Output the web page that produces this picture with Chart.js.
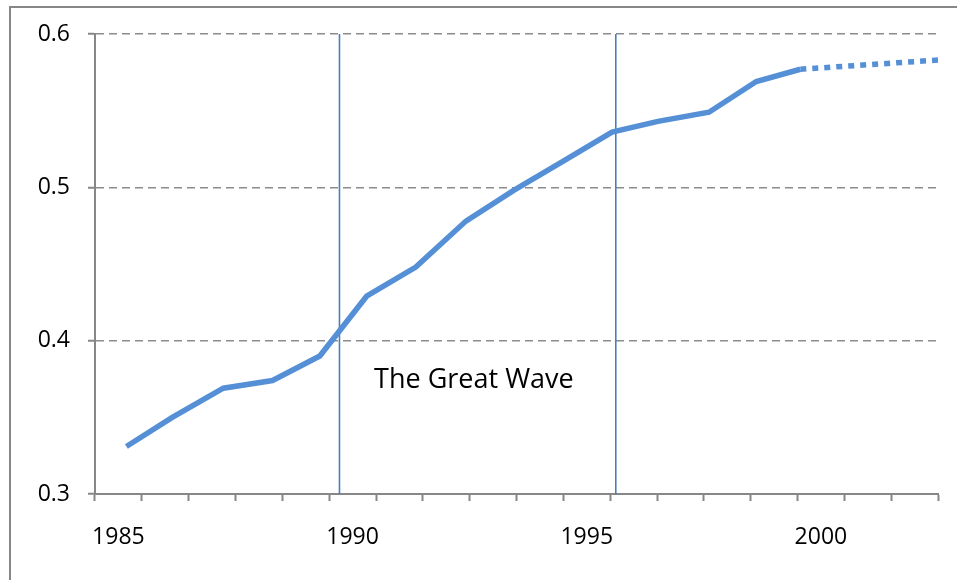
<!DOCTYPE html>
<html>
<head>
<meta charset="utf-8">
<script src="https://cdn.jsdelivr.net/npm/chart.js@4"></script>
<style>
  body { margin: 0; background: #fff; }
  #chart { display: block; }
</style>
</head>
<body>
<canvas id="chart" width="957" height="580"></canvas>
<script>
// category labels along the bottom axis
const years = ["1985", "1986", "1987", "1988", "1989", "1990", "1991", "1992", "1993",
    "1994", "1995", "1996", "1997", "1998", "1999", "2000", "2001", "2002"];

// series (x in years, y values)
const seriesX = [1985.17, 1986.15, 1987.24, 1988.29, 1989.30, 1990.30, 1991.35, 1992.42,
    1993.44, 1994.49, 1995.54, 1996.52, 1997.61, 1998.62, 1999.56, 2002.5];
const seriesY = [0.331, 0.350, 0.369, 0.374, 0.390, 0.429, 0.448, 0.478,
    0.498, 0.517, 0.536, 0.543, 0.549, 0.569, 0.577, 0.583];

// vertical marker lines and the label between them
const markerYears = [1989.72, 1995.62];
const waveLabel = "The Great Wave";
const waveLabelAt = { x: 1992.59, y: 0.3744 };

const yTicks = [0.3, 0.4, 0.5, 0.6];

const FONT = "'Open Sans', sans-serif";
const lineColor = "#5590d6";
const markerColor = "#4a7ebb";
const axisGray = "#878787";

const mainData = seriesX.map((x, i) => ({ x: x, y: seriesY[i] }));
const lastSeg = mainData.length - 2;

const markerSets = markerYears.map((yr) => ({
    data: [{ x: yr, y: yTicks[0] }, { x: yr, y: yTicks[yTicks.length - 1] }],
    xAxisID: "xl",
    borderColor: markerColor,
    borderWidth: 1.6,
    pointRadius: 0,
    tension: 0,
}));

const frame = {
    id: "frame",
    beforeDraw(chart) {
        const ctx = chart.ctx;
        ctx.save();
        ctx.fillStyle = "#fff";
        ctx.fillRect(0, 0, chart.width, chart.height);
        ctx.strokeStyle = axisGray;
        ctx.lineWidth = 2;
        ctx.strokeRect(10, 7, 2000, 2000);
        ctx.restore();
    },
    afterDatasetsDraw(chart) {
        const ctx = chart.ctx;
        const xs = chart.scales.xl;
        const ys = chart.scales.y;
        ctx.save();
        ctx.fillStyle = "#000";
        ctx.font = "27px " + FONT;
        ctx.textAlign = "center";
        ctx.textBaseline = "middle";
        ctx.fillText(waveLabel, xs.getPixelForValue(waveLabelAt.x), ys.getPixelForValue(waveLabelAt.y));
        ctx.restore();
    },
};

const ctx = document.getElementById("chart").getContext("2d");
const myChart = new Chart(ctx, {
    type: "line",
    data: {
        labels: years,
        datasets: [
            {
                label: "series",
                data: mainData,
                xAxisID: "xl",
                borderColor: lineColor,
                borderWidth: 5.5,
                pointRadius: 0,
                tension: 0,
                borderCapStyle: "butt",
                segment: {
                    borderDash: (c) => (c.p0DataIndex === lastSeg ? [6, 6] : undefined),
                },
            },
            ...markerSets,
        ],
    },
    options: {
        responsive: false,
        animation: false,
        layout: { padding: { left: 0, top: 34, right: 19, bottom: 0 } },
        plugins: { legend: { display: false }, tooltip: { enabled: false } },
        scales: {
            x: {
                type: "category",
                position: "bottom",
                offset: true,
                grid: {
                    offset: true,
                    drawOnChartArea: false,
                    drawTicks: true,
                    tickLength: 7,
                    tickColor: axisGray,
                    tickWidth: 2,
                },
                border: { color: axisGray, width: 2 },
                ticks: {
                    autoSkip: false,
                    maxRotation: 0,
                    padding: 23,
                    color: "#000",
                    font: { family: FONT, size: 23 },
                    callback: function (val, i) {
                        const lab = years[i];
                        return Number(lab) % 5 === 0 ? lab : "";
                    },
                },
                afterFit: (s) => { s.height = 86; },
            },
            xl: {
                type: "linear",
                display: false,
                min: 1984.5,
                max: 2002.5,
            },
            y: {
                type: "linear",
                min: yTicks[0],
                max: yTicks[yTicks.length - 1],
                afterBuildTicks: (s) => { s.ticks = yTicks.map((v) => ({ value: v })); },
                grid: {
                    color: "#8c8c8c",
                    lineWidth: 1.5,
                    tickLength: 7,
                    tickColor: axisGray,
                    tickWidth: 2,
                    tickBorderDash: [],
                },
                border: { color: axisGray, width: 2, dash: [8, 5] },
                ticks: {
                    padding: 18,
                    color: "#000",
                    font: { family: FONT, size: 23 },
                    callback: (v) => Number(v).toFixed(1),
                },
                afterFit: (s) => { s.width = 95; },
            },
        },
    },
    plugins: [frame],
});
</script>
</body>
</html>
